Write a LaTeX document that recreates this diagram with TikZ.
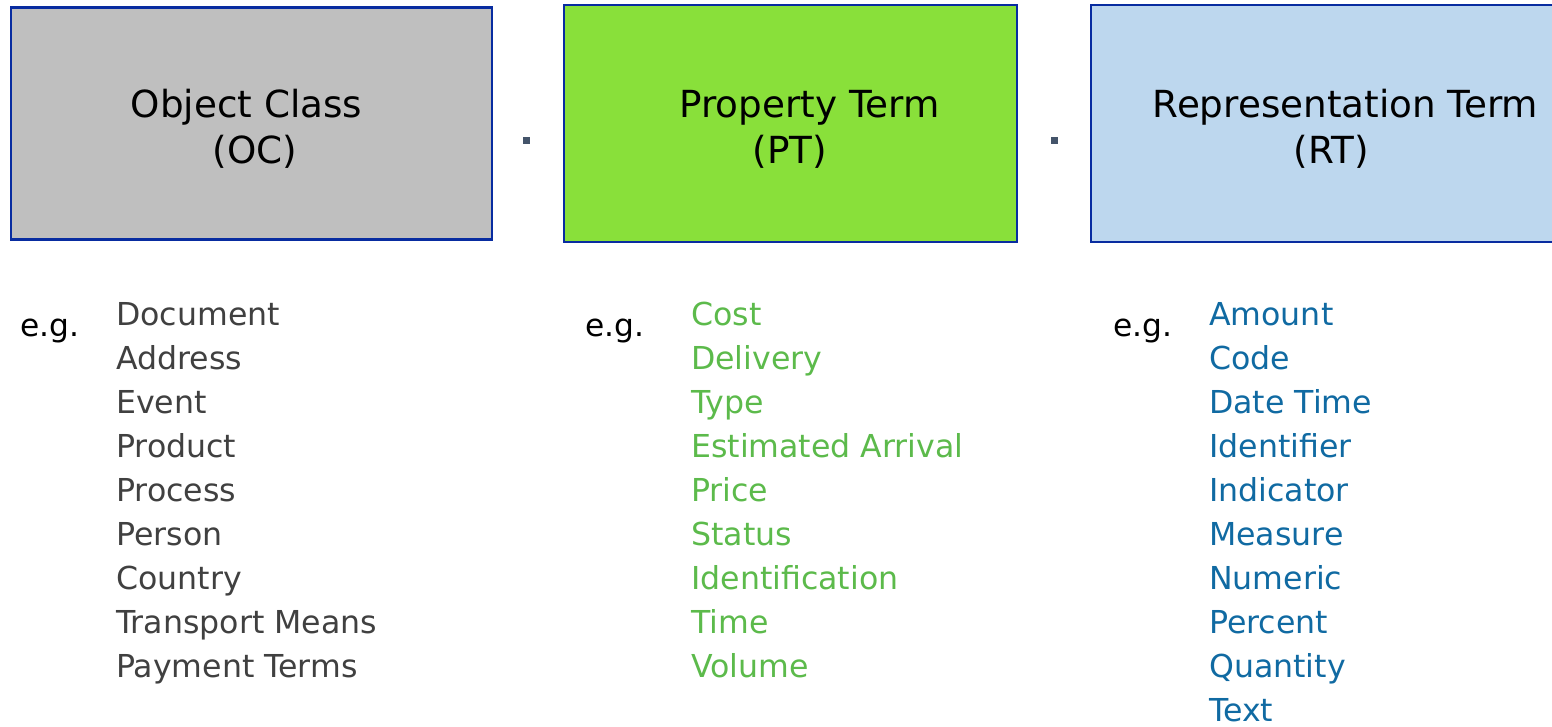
\documentclass[tikz,border=0pt]{standalone}
\usepackage{fontspec}
\setmainfont{DejaVu Sans}
\definecolor{bordblue}{RGB}{8,44,160}
\definecolor{ocfill}{RGB}{191,191,191}
\definecolor{ptfill}{RGB}{137,224,58}
\definecolor{rtfill}{RGB}{189,215,238}
\definecolor{dotcol}{RGB}{68,84,106}
\definecolor{ocitem}{RGB}{64,64,64}
\definecolor{ptitem}{RGB}{92,186,75}
\definecolor{rtitem}{RGB}{16,106,162}
\tikzset{
  termbox/.style={draw=bordblue, line width=2.4pt},
  boxtext/.style={inner sep=0pt, anchor=base, font=\fontsize{37.3}{44}\selectfont, text=black},
  egtext/.style={inner sep=0pt, anchor=base west, font=\fontsize{31.3}{37}\selectfont, text=black},
  itemtext/.style={inner sep=0pt, anchor=base west, font=\fontsize{31.6}{37}\selectfont},
  sepdot/.style={fill=dotcol, draw=none, minimum size=7pt, inner sep=0pt, rectangle}
}
\begin{document}
\begin{tikzpicture}[x=1pt, y=-1pt]
\useasboundingbox (0,0) rectangle (1552,726);
% boxes
\path[termbox, fill=ocfill] (11,7.5) rectangle (492,239.5);
\path[termbox, fill=ptfill] (564,5) rectangle (1017,242);
\path[termbox, fill=rtfill] (1091,5) rectangle (1570,242);
% box texts
\node[boxtext] (oc1) at (246.5,117) {Object Class};
\node[boxtext] (oc2) at (255,163) {(OC)};
\node[boxtext] (pt1) at (809.5,117) {Property Term};
\node[boxtext] (pt2) at (790,163) {(PT)};
\node[boxtext] (rt1) at (1345.5,117) {Representation Term};
\node[boxtext] (rt2) at (1331,163) {(RT)};
% separator dots
\node[sepdot] (d1) at (526.5,140) {};
\node[sepdot] (d2) at (1054.5,140) {};
% e.g.
\node[egtext] (eg1) at (20,336) {e.g.};
\node[egtext] (eg2) at (585,336) {e.g.};
\node[egtext] (eg3) at (1113,336) {e.g.};
% lists
\foreach \t [count=\i] in {Document,Address,Event,Product,Process,Person,Country,Transport Means,Payment Terms}
  \node[itemtext, text=ocitem] (oci\i) at (116,{325+44*(\i-1)}) {\t};
\foreach \t [count=\i] in {Cost,Delivery,Type,Estimated Arrival,Price,Status,Identification,Time,Volume}
  \node[itemtext, text=ptitem] (pti\i) at (691,{325+44*(\i-1)}) {\t};
\foreach \t [count=\i] in {Amount,Code,Date Time,Identifier,Indicator,Measure,Numeric,Percent,Quantity,Text}
  \node[itemtext, text=rtitem] (rti\i) at (1209,{325+44*(\i-1)}) {\t};
\end{tikzpicture}
\end{document}
